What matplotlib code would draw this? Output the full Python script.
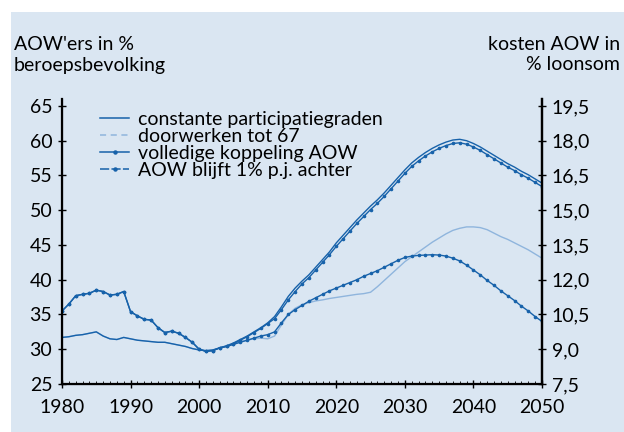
import numpy as np
import matplotlib
matplotlib.use('Agg')
import matplotlib.pyplot as plt
from matplotlib.lines import Line2D
from matplotlib.patches import Rectangle

plt.rcParams['font.family'] = ['Lato', 'DejaVu Sans']

years = np.arange(1980, 2051)

# AOW'ers in % beroepsbevolking / kosten AOW (left-axis units)
constant = [31.7, 31.8, 32.0, 32.1, 32.3, 32.5, 31.9, 31.5, 31.4, 31.7,
            31.5, 31.3, 31.2, 31.1, 31.0, 31.0, 30.8, 30.6, 30.4, 30.1,
            29.9, 29.8, 29.9, 30.2, 30.5, 30.9, 31.4, 31.9, 32.5, 33.1,
            33.8, 34.7, 36.1, 37.6, 38.8, 39.8, 40.7, 41.8, 42.9, 44.0,
            45.3, 46.4, 47.5, 48.6, 49.6, 50.6, 51.5, 52.5, 53.6, 54.7,
            55.8, 56.8, 57.6, 58.3, 58.9, 59.4, 59.8, 60.1, 60.2, 60.0,
            59.6, 59.1, 58.5, 57.9, 57.3, 56.7, 56.2, 55.6, 55.1, 54.5, 53.9]

doorwerken = [31.7, 31.8, 32.0, 32.1, 32.3, 32.5, 31.9, 31.5, 31.4, 31.7,
              31.5, 31.3, 31.2, 31.1, 31.0, 31.0, 30.8, 30.6, 30.4, 30.1,
              29.9, 29.8, 29.9, 30.2, 30.5, 30.8, 31.1, 31.3, 31.5, 31.6,
              31.5, 31.9, 33.5, 35.0, 35.9, 36.4, 36.7, 36.95, 37.1, 37.3,
              37.45, 37.6, 37.75, 37.9, 38.0, 38.2, 39.0, 39.9, 40.8, 41.7,
              42.6, 43.3, 44.0, 44.7, 45.4, 46.0, 46.6, 47.1, 47.4, 47.6,
              47.6, 47.5, 47.2, 46.7, 46.2, 45.8, 45.3, 44.8, 44.3, 43.7, 43.1]

volledig = [35.5, 36.5, 37.7, 37.9, 38.05, 38.5, 38.3, 37.8, 37.9, 38.3,
            35.4, 34.8, 34.3, 34.2, 33.1, 32.4, 32.6, 32.3, 31.7, 31.0,
            30.0, 29.7, 29.8, 30.2, 30.4, 30.8, 31.3, 31.8, 32.4, 33.0,
            33.7, 34.4, 35.7, 37.1, 38.3, 39.4, 40.3, 41.4, 42.5, 43.6,
            44.8, 45.9, 47.0, 48.1, 49.1, 50.1, 51.0, 52.0, 53.1, 54.2,
            55.3, 56.3, 57.1, 57.8, 58.4, 58.9, 59.3, 59.6, 59.7, 59.5,
            59.1, 58.6, 58.0, 57.4, 56.8, 56.2, 55.7, 55.1, 54.6, 54.0, 53.4]

achter = [35.5, 36.5, 37.7, 37.9, 38.05, 38.5, 38.3, 37.8, 37.9, 38.3,
          35.4, 34.8, 34.3, 34.2, 33.1, 32.4, 32.6, 32.3, 31.7, 31.0,
          30.0, 29.7, 29.8, 30.2, 30.4, 30.7, 31.0, 31.3, 31.6, 31.9,
          32.1, 32.5, 33.8, 35.0, 35.7, 36.3, 36.9, 37.4, 37.9, 38.4,
          38.8, 39.2, 39.6, 40.0, 40.5, 40.9, 41.3, 41.8, 42.3, 42.8,
          43.2, 43.4, 43.5, 43.55, 43.6, 43.55, 43.4, 43.1, 42.7, 42.1,
          41.4, 40.7, 39.9, 39.2, 38.4, 37.7, 37.0, 36.2, 35.5, 34.7, 34.0]

labels = ['constante participatiegraden', 'doorwerken tot 67',
          'volledige koppeling AOW', 'AOW blijft 1% p.j. achter']
left_ticks = [25, 30, 35, 40, 45, 50, 55, 60, 65]
right_ticks = [7.5, 9.0, 10.5, 12.0, 13.5, 15.0, 16.5, 18.0, 19.5]

dark = '#1762aa'
light = '#8fb5dd'
bg = '#dae6f2'
fs = 14

fig = plt.figure(figsize=[6.24, 4.32], dpi=100)
fig.patches.append(Rectangle((11/624, 0), 1, (432-12)/432, transform=fig.transFigure,
                             facecolor=bg, edgecolor='none', zorder=-10))

ax = fig.add_axes([62/624, 48/432, 480/624, 285/432])
ax.set_facecolor('none')

ax.plot(years, doorwerken, color=light, lw=1.0)
ax.plot(years, achter, color=dark, lw=1.0, marker='o', markersize=1.6)
ax.plot(years, constant, color=dark, lw=1.0)
ax.plot(years, volledig, color=dark, lw=1.0, marker='o', markersize=1.6)

ax.set_xlim(1980, 2050)
ax.set_ylim(25, 66)
ax.set_xticks(range(1980, 2051, 10))
ax.set_xticks(range(1980, 2051), minor=True)
ax.set_yticks(left_ticks)
ax.tick_params(axis='x', which='major', direction='inout', length=6, width=1, labelsize=fs, pad=8)
ax.tick_params(axis='x', which='minor', direction='in', length=2, width=0.6)
ax.tick_params(axis='y', direction='inout', length=6, width=1, labelsize=fs, pad=4)
ax.spines['top'].set_visible(False)
for s in ['left', 'bottom', 'right']:
    ax.spines[s].set_linewidth(1.6)

ax2 = ax.twinx()
ax2.set_ylim(7.5, 7.5 + (66 - 25) * 0.3)
ax2.set_yticks(right_ticks)
ax2.set_yticklabels([('%.1f' % t).replace('.', ',') for t in right_ticks])
ax2.tick_params(axis='y', direction='inout', length=6, width=1, labelsize=fs, pad=4)
ax2.spines['top'].set_visible(False)
ax2.spines['right'].set_linewidth(1.6)

handles = [Line2D([], [], color=dark, lw=1.1),
           Line2D([], [], color=light, lw=1.1, linestyle=(0, (4, 3))),
           Line2D([], [], color=dark, lw=1.1, marker='o', markersize=2.2),
           Line2D([], [], color=dark, lw=1.1, linestyle=(0, (6, 1.5)), marker='o', markersize=2.2)]
ax.legend(handles, labels, loc='upper left', bbox_to_anchor=(0.055, 1.0), frameon=False,
          fontsize=fs, handlelength=1.5, handletextpad=0.45, labelspacing=0.0,
          borderaxespad=0.2)

fig.text(14/624, 1 - 36/432, "AOW'ers in %\nberoepsbevolking", ha='left', va='top',
         fontsize=fs, linespacing=1.25)
fig.text(620/624, 1 - 36/432, "kosten AOW in\n% loonsom", ha='right', va='top',
         fontsize=fs, linespacing=1.25, multialignment='right')

fig.savefig('out.png', dpi=100)
